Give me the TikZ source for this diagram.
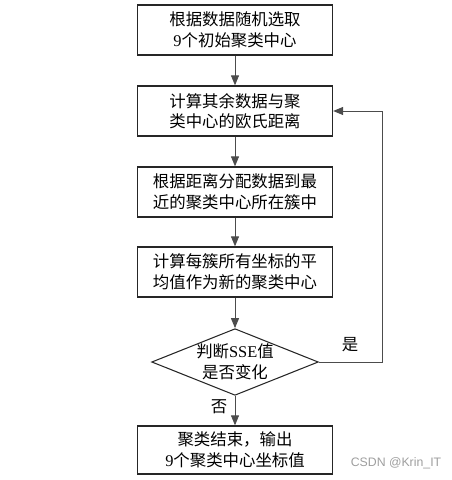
\documentclass[tikz,border=0pt]{standalone}
\usepackage{fontspec}
\setmainfont{Noto Sans CJK SC}
\newfontfamily\latin{Liberation Serif}
\newfontfamily\wmfont{Liberation Sans}
\usetikzlibrary{arrows.meta,shapes.geometric}

\tikzset{
	stepbox/.style={draw=black!85, line width=1.1pt, minimum width=5.85cm,
		minimum height=1.5cm, align=center, inner sep=0pt,
		font=\fontsize{14}{17.5}\selectfont},
	checkbox/.style={draw=black!85, line width=0.9pt, diamond, aspect=2.5,
		minimum width=4.95cm, minimum height=2.0cm, inner sep=0pt, align=center,
		font=\fontsize{14}{17.5}\selectfont},
	flow/.style={draw=black!70, line width=0.8pt,
		-{Triangle[length=0.3cm,width=0.24cm]}},
}

\begin{document}
\begin{tikzpicture}[x=0.03cm,y=-0.03cm]

	\useasboundingbox (0,0) rectangle (452,480);

% steps %{{{2

	\node[stepbox] (init) at (235,30) {根据数据随机选取\\{\latin 9}个初始聚类中心};
	\node[stepbox] (dist) at (235,111) {计算其余数据与聚\\类中心的欧氏距离};
	\node[stepbox] (assign) at (235,192) {根据距离分配数据到最\\近的聚类中心所在簇中};
	\node[stepbox] (update) at (235,272) {计算每簇所有坐标的平\\均值作为新的聚类中心};

% decision %{{{2

	\node[checkbox] (check) at (235,362) {判断{\latin SSE}值\\是否变化};

% end %{{{2

	\node[stepbox, minimum height=1.44cm] (done) at (235,450) {聚类结束，输出\\{\latin 9}个聚类中心坐标值};

% connectors %{{{2

	\draw[flow] (init) -- (dist);
	\draw[flow] (dist) -- (assign);
	\draw[flow] (assign) -- (update);
	\draw[flow] (update) -- (check);
	\draw[flow] (check) -- (done);
	\draw[flow] (check.east) -- ++(63.5,0) |- (dist.east);

% labels %{{{2

	\node[font=\fontsize{14}{17}\selectfont] (yes) at (350,345) {是};
	\node[font=\fontsize{14}{17}\selectfont] (no) at (219,407) {否};

% watermark %{{{2

	\node[text=black!38, font=\wmfont\fontsize{10.5}{12}\selectfont] (csdn) at (396,463) {CSDN @Krin\_IT};

\end{tikzpicture}
\end{document}
